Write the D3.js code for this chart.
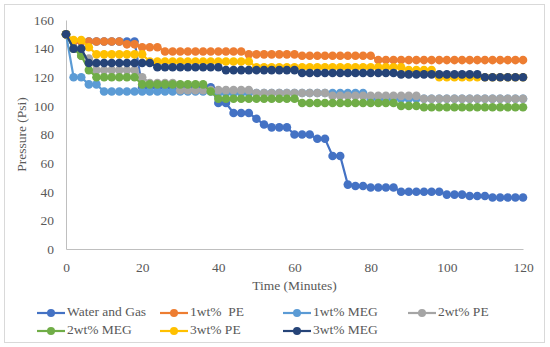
<!DOCTYPE html>
<meta charset="utf-8">
<script src="https://d3js.org/d3.v7.min.js"></script>
<style>
  body { margin: 0; background: #fff; }
  text { font-family: "Liberation Serif", serif; fill: #595959; }
</style>
<body>
<div id="my_dataviz"></div>
<script>

// time axis (minutes)
var time = [0,2,4,6,8,10,12,14,16,18,20,22,24,26,28,30,32,34,36,38,40,42,44,46,48,50,52,54,56,58,
  60,62,64,66,68,70,72,74,76,78,80,82,84,86,88,90,92,94,96,98,100,102,104,106,108,110,112,114,116,118,120]

// pressure (Psi)
var waterGas = [150,145,145,145,145,145,145,145,145,145,
  113,113,113,113,113,113,113,113,113,113,
  102,102,95,95,95,91,87,85,85,85,
  80,80,80,77,77,65,65,45,44,44,
  43,43,43,43,40,40,40,40,40,40,
  38,38,38,37,37,37,36,36,36,36,36]
var pe1 = [150,145,145,145,145,145,145,145,143,143,
  141,141,141,138,138,138,138,138,138,138,
  138,138,138,138,136,136,136,136,136,136,
  136,135,135,135,135,135,135,135,135,135,
  135,132,132,132,132,132,132,132,132,132,
  132,132,132,132,132,132,132,132,132,132,132]
var meg1 = [150,120,120,115,115,110,110,110,110,110,
  110,110,110,110,110,110,110,110,110,110,
  109,109,109,109,109,109,109,109,109,109,
  109,109,109,109,109,109,109,109,109,109,
  105,105,105,105,105,105,105,105,105,105,
  105,105,105,105,105,105,105,105,105,105,105]
var pe2 = [150,140,135,133,125,125,125,125,125,125,
  120,116,116,116,116,111,111,111,111,111,
  111,111,111,111,111,109,109,109,109,109,
  109,109,109,109,109,107,107,107,107,107,
  107,107,107,107,107,107,107,105,105,105,
  105,105,105,105,105,105,105,105,105,105,105]
var meg2 = [150,140,135,125,120,120,120,120,120,120,
  115,115,115,115,115,115,115,115,115,110,
  105,105,105,105,105,105,105,105,105,105,
  105,102,102,102,102,102,102,102,102,102,
  102,102,102,102,100,100,100,99,99,99,
  99,99,99,99,99,99,99,99,99,99,99]
var pe3 = [150,146,146,141,136,136,136,136,136,136,
  136,131,131,131,131,131,131,131,131,131,
  131,131,131,131,131,127,127,127,127,127,
  127,127,127,127,127,127,127,127,127,127,
  127,127,127,127,127,125,125,125,125,120,
  120,120,120,120,120,120,120,120,120,120,120]
var meg3 = [150,140,140,130,130,130,130,130,130,130,
  130,130,127,127,127,127,127,127,127,127,
  127,125,125,125,125,125,125,125,125,125,
  125,123,123,123,123,123,123,123,123,123,
  123,123,123,123,122,122,122,122,122,122,
  122,122,122,122,122,120,120,120,120,120,120]

var seriesNames = ["Water and Gas", "1wt%  PE", "1wt% MEG", "2wt% PE", "2wt% MEG", "3wt% PE", "3wt% MEG"]
var seriesValues = [waterGas, pe1, meg1, pe2, meg2, pe3, meg3]
var colors = ["#4472C4", "#ED7D31", "#5B9BD5", "#A5A5A5", "#70AD47", "#FFC000", "#264478"]

var xTicks = [0, 20, 40, 60, 80, 100, 120]
var yTicks = [0, 20, 40, 60, 80, 100, 120, 140, 160]

var width = 550
var height = 347

var svg = d3.select("#my_dataviz")
  .append("svg")
    .attr("width", width)
    .attr("height", height)

// outer frame
svg.append("rect")
  .attr("x", 4.5).attr("y", 4.5)
  .attr("width", 540).attr("height", 338)
  .attr("fill", "none")
  .attr("stroke", "#d9d9d9")

var x = d3.scaleLinear().domain([0, 120]).range([66, 523])
var y = d3.scaleLinear().domain([0, 160]).range([249, 20])

// axes
var xAxis = svg.append("g")
  .attr("transform", "translate(0," + y(0) + ")")
  .call(d3.axisBottom(x).tickValues(xTicks).tickSize(0).tickPadding(13))
xAxis.select(".domain").attr("stroke", "#bfbfbf")
xAxis.selectAll("text").style("font-size", "13.5px").style("font-family", "Liberation Serif")

var yAxis = svg.append("g")
  .attr("transform", "translate(" + x(0) + ",0)")
  .call(d3.axisLeft(y).tickValues(yTicks).tickSize(0).tickPadding(12))
yAxis.select(".domain").attr("stroke", "#bfbfbf")
yAxis.selectAll("text").style("font-size", "13.5px").style("font-family", "Liberation Serif")

// axis titles
svg.append("text")
  .attr("x", (x(0) + x(120)) / 2)
  .attr("y", 290)
  .attr("text-anchor", "middle")
  .style("font-size", "13.5px")
  .text("Time (Minutes)")

svg.append("text")
  .attr("transform", "translate(26," + (y(0) + y(160)) / 2 + ") rotate(-90)")
  .attr("text-anchor", "middle")
  .style("font-size", "13.5px")
  .text("Pressure (Psi)")

// lines + markers
var line = d3.line()
  .x(function(d, i){ return x(time[i]) })
  .y(function(d){ return y(d) })

seriesValues.forEach(function(vals, s){
  var g = svg.append("g")
  g.append("path")
    .datum(vals)
    .attr("d", line)
    .attr("fill", "none")
    .attr("stroke", colors[s])
    .attr("stroke-width", 2.2)
  g.selectAll("circle")
    .data(vals)
    .enter()
    .append("circle")
      .attr("cx", function(d, i){ return x(time[i]) })
      .attr("cy", function(d){ return y(d) })
      .attr("r", 4.3)
      .style("fill", colors[s])
})

// legend
var legendX = [37, 160, 283, 408]
var legendY = [313, 331]
seriesNames.forEach(function(name, s){
  var lx = legendX[s % 4]
  var ly = legendY[Math.floor(s / 4)]
  svg.append("line")
    .attr("x1", lx).attr("x2", lx + 28)
    .attr("y1", ly).attr("y2", ly)
    .attr("stroke", colors[s])
    .attr("stroke-width", 2.2)
  svg.append("circle")
    .attr("cx", lx + 14).attr("cy", ly)
    .attr("r", 4)
    .style("fill", colors[s])
  svg.append("text")
    .attr("x", lx + 30)
    .attr("y", ly)
    .attr("dominant-baseline", "middle")
    .style("font-size", "13.5px")
    .attr("xml:space", "preserve")
    .text(name)
})
</script>
</body>
